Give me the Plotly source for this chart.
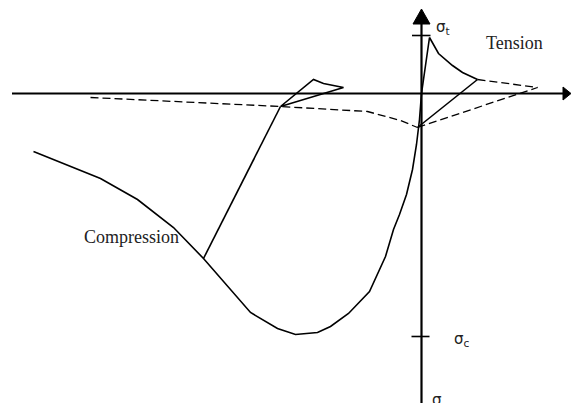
import plotly.graph_objects as go

# strain / stress in drawing units, origin at the axes crossing
envelope_eps = [-388, -321, -284, -248, -218, -171, -144, -126, -104, -91, -73, -52,
                -36, -28, -22, -15, -9, -5, -2, 0, 4, 8, 17, 31, 41, 56]
envelope_sig = [-58, -85, -106, -134, -165, -219, -235, -241, -239, -233, -220, -198,
                -163, -136, -121, -101, -76, -51, -26, 0, 28, 56, 40, 28, 21, 14]

unload_c_eps = [-218, -141]
unload_c_sig = [-165, -13]

loop_eps = [-141, -108, -98, -78, -141]
loop_sig = [-13, 14, 10, 6, -13]

reload_left_eps = [-331, -221, -141, -54, -21, -4]
reload_left_sig = [-4, -9, -13, -18, -27, -34]

unload_t_eps = [-4, 56]
unload_t_sig = [-34, 14]

dash_upper_eps = [56, 116]
dash_upper_sig = [14, 6]
dash_lower_eps = [-4, 116]
dash_lower_sig = [-34, 6]

sigma_t = 58
sigma_c = -243

X0, X1 = -421.5, 149.5
Y0, Y1 = -309.5, 93.5

BLACK = '#000000'
SERIF = 'Liberation Serif'
SANS = 'DejaVu Sans'

fig = go.Figure()

def solid(x, y):
    fig.add_trace(go.Scatter(x=x, y=y, mode='lines',
                             line=dict(color=BLACK, width=1.6), showlegend=False))

def dashed(x, y):
    fig.add_trace(go.Scatter(x=x, y=y, mode='lines',
                             line=dict(color=BLACK, width=1.3, dash='8px,4px'), showlegend=False))

solid(envelope_eps, envelope_sig)
solid(unload_c_eps, unload_c_sig)
solid(loop_eps, loop_sig)
solid(unload_t_eps, unload_t_sig)
dashed(reload_left_eps, reload_left_sig)
dashed(dash_upper_eps, dash_upper_sig)
dashed(dash_lower_eps, dash_lower_sig)

# axes
shapes = [
    dict(type='line', x0=-409.5, x1=142, y0=0, y1=0, line=dict(color=BLACK, width=2.2)),
    dict(type='line', x0=0, x1=0, y0=Y0, y1=70, line=dict(color=BLACK, width=2.2)),
    dict(type='path', path='M 141.5 6.5 L 149.5 0 L 141.5 -6.5 Z',
         fillcolor=BLACK, line=dict(color=BLACK, width=1)),
    dict(type='path', path='M -8.5 69.5 L 0 84.5 L 8.5 69.5 Z',
         fillcolor=BLACK, line=dict(color=BLACK, width=1)),
    dict(type='line', x0=-9.5, x1=9, y0=sigma_t, y1=sigma_t, line=dict(color=BLACK, width=1.6)),
    dict(type='line', x0=-10, x1=8, y0=sigma_c, y1=sigma_c, line=dict(color=BLACK, width=1.6)),
]

annotations = [
    dict(x=92.5, y=50.5, text='Tension', font=dict(family=SERIF, size=18, color='#222')),
    dict(x=-290.5, y=-143.5, text='Compression', font=dict(family=SERIF, size=18, color='#222')),
    dict(x=12.5, y=66, text='σ<sub>t</sub>', xanchor='left', font=dict(family=SANS, size=15, color='#222')),
    dict(x=30, y=-246, text='σ<sub>c</sub>', xanchor='left', font=dict(family=SANS, size=15, color='#222')),
    dict(x=8, y=-308, yshift=2, text='σ', xanchor='left', font=dict(family=SANS, size=15, color='#222')),
    dict(x=147.5, y=-18, text='ε', xanchor='left', font=dict(family=SANS, size=11, color='#222')),
]
for a in annotations:
    a.update(xref='x', yref='y', showarrow=False)

fig.update_layout(
    width=571, height=403,
    margin=dict(l=0, r=0, t=0, b=0),
    paper_bgcolor='white', plot_bgcolor='white',
    xaxis=dict(range=[X0, X1], visible=False, fixedrange=True),
    yaxis=dict(range=[Y0, Y1], visible=False, fixedrange=True),
    shapes=shapes,
    annotations=annotations,
    showlegend=False,
)

# drop the default page margin so the figure sits at the window's corner
fig.write_html("out.html", config={'displayModeBar': False},
               post_script="document.body.style.margin='0';")
